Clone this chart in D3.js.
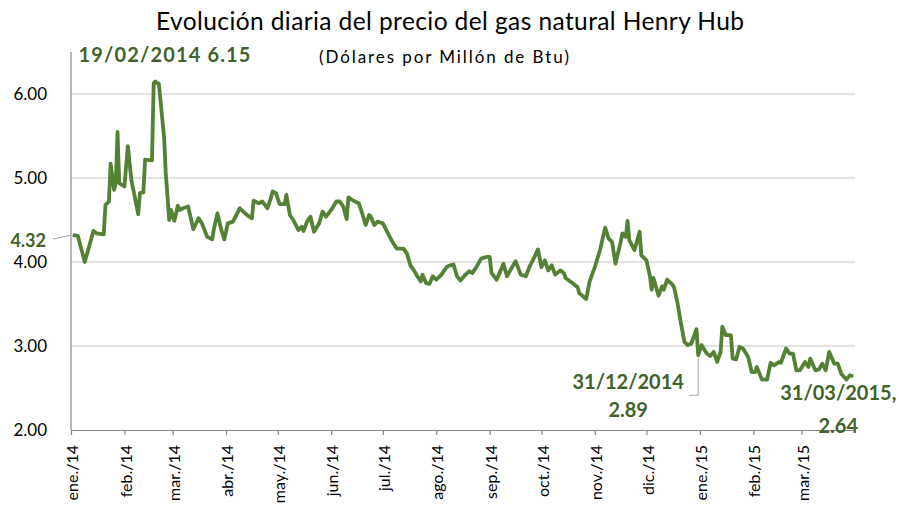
<!DOCTYPE html>
<html>
<head>
<meta charset="utf-8">
<script src="https://cdn.jsdelivr.net/npm/d3@7"></script>
<style>
  body { margin: 0; background: #fff; }
  svg { display: block; font-family: Lato, "Open Sans", sans-serif; }
</style>
</head>
<body>
<div id="chart"></div>
<script>
// daily Henry Hub price (USD / MMBtu)
const dates = [
  "2014-01-02","2014-01-05","2014-01-09","2014-01-14","2014-01-16","2014-01-20","2014-01-21","2014-01-23",
  "2014-01-24","2014-01-26","2014-01-27","2014-01-28","2014-01-29","2014-02-01","2014-02-03","2014-02-05",
  "2014-02-09","2014-02-10","2014-02-12","2014-02-13","2014-02-17","2014-02-18","2014-02-19","2014-02-20",
  "2014-02-21","2014-02-24","2014-02-25","2014-02-27","2014-02-28","2014-03-02","2014-03-04","2014-03-05",
  "2014-03-07","2014-03-10","2014-03-13","2014-03-16","2014-03-18","2014-03-21","2014-03-24","2014-03-25",
  "2014-03-27","2014-03-29","2014-03-31","2014-04-02","2014-04-05","2014-04-09","2014-04-13","2014-04-16",
  "2014-04-17","2014-04-20","2014-04-22","2014-04-25","2014-04-27","2014-04-28","2014-04-30","2014-05-02",
  "2014-05-05","2014-05-06","2014-05-08","2014-05-10","2014-05-13","2014-05-15","2014-05-16","2014-05-18",
  "2014-05-20","2014-05-22","2014-05-25","2014-05-27","2014-05-29","2014-06-01","2014-06-04","2014-06-06",
  "2014-06-08","2014-06-10","2014-06-11","2014-06-13","2014-06-17","2014-06-19","2014-06-21","2014-06-23",
  "2014-06-24","2014-06-26","2014-06-28","2014-07-01","2014-07-03","2014-07-06","2014-07-09","2014-07-13",
  "2014-07-15","2014-07-17","2014-07-19","2014-07-21","2014-07-23","2014-07-24","2014-07-26","2014-07-28",
  "2014-07-30","2014-08-01","2014-08-04","2014-08-07","2014-08-09","2014-08-11","2014-08-13","2014-08-15",
  "2014-08-18","2014-08-20","2014-08-22","2014-08-24","2014-08-27","2014-08-30","2014-09-01","2014-09-02",
  "2014-09-05","2014-09-08","2014-09-09","2014-09-11","2014-09-16","2014-09-19","2014-09-22","2014-09-24",
  "2014-09-27","2014-09-29","2014-10-01","2014-10-03","2014-10-05","2014-10-07","2014-10-09","2014-10-12",
  "2014-10-14","2014-10-15","2014-10-19","2014-10-22","2014-10-23","2014-10-27","2014-10-29","2014-11-01",
  "2014-11-04","2014-11-07","2014-11-09","2014-11-11","2014-11-13","2014-11-16","2014-11-17","2014-11-19",
  "2014-11-20","2014-11-21","2014-11-24","2014-11-27","2014-11-28","2014-12-01","2014-12-03","2014-12-04",
  "2014-12-05","2014-12-08","2014-12-10","2014-12-11","2014-12-13","2014-12-16","2014-12-17","2014-12-19",
  "2014-12-21","2014-12-23","2014-12-25","2014-12-27","2014-12-30","2014-12-31","2015-01-02","2015-01-05",
  "2015-01-07","2015-01-09","2015-01-11","2015-01-13","2015-01-14","2015-01-16","2015-01-19","2015-01-20",
  "2015-01-22","2015-01-24","2015-01-26","2015-01-29","2015-01-31","2015-02-02","2015-02-03","2015-02-06",
  "2015-02-09","2015-02-11","2015-02-13","2015-02-16","2015-02-17","2015-02-20","2015-02-22","2015-02-24",
  "2015-02-26","2015-02-28","2015-03-03","2015-03-05","2015-03-06","2015-03-09","2015-03-11","2015-03-13",
  "2015-03-15","2015-03-17","2015-03-20","2015-03-22","2015-03-24","2015-03-27","2015-03-29","2015-03-31"
];
const prices = [
  4.32,4.31,4.00,4.37,4.34,4.33,4.68,4.72,
  5.17,4.86,4.94,5.55,4.94,4.90,5.38,4.98,
  4.57,4.82,4.83,5.22,5.21,6.13,6.15,6.13,
  6.12,5.49,5.06,4.50,4.62,4.49,4.67,4.62,
  4.64,4.66,4.39,4.52,4.46,4.30,4.27,4.40,
  4.58,4.40,4.27,4.46,4.48,4.64,4.56,4.52,
  4.73,4.70,4.72,4.64,4.76,4.84,4.82,4.69,
  4.69,4.80,4.56,4.50,4.38,4.42,4.37,4.48,
  4.54,4.36,4.46,4.60,4.54,4.62,4.72,4.72,
  4.66,4.51,4.77,4.74,4.70,4.58,4.44,4.56,
  4.54,4.44,4.48,4.46,4.38,4.26,4.16,4.16,
  4.10,3.96,3.90,3.83,3.77,3.85,3.75,3.74,
  3.83,3.79,3.85,3.94,3.96,3.97,3.83,3.78,
  3.85,3.89,3.87,3.93,4.04,4.06,4.06,3.87,
  3.79,3.93,3.98,3.83,4.01,3.85,3.83,3.94,
  4.06,4.15,3.94,4.02,3.90,3.96,3.85,3.90,
  3.87,3.81,3.75,3.70,3.63,3.56,3.77,3.94,
  4.14,4.41,4.28,4.24,3.98,4.24,4.34,4.30,
  4.49,4.26,4.14,4.36,4.08,4.02,3.83,3.67,
  3.81,3.60,3.71,3.67,3.79,3.73,3.70,3.51,
  3.27,3.05,3.01,3.03,3.20,2.89,3.01,2.91,
  2.88,2.93,2.81,2.93,3.23,3.13,3.13,2.85,
  2.84,2.99,2.97,2.87,2.69,2.69,2.75,2.60,
  2.60,2.80,2.77,2.81,2.80,2.97,2.91,2.91,
  2.71,2.71,2.81,2.75,2.85,2.71,2.72,2.79,
  2.71,2.93,2.79,2.79,2.67,2.60,2.65,2.64
];

const monthTicks = [
  "2014-01-01","2014-02-01","2014-03-01","2014-04-01","2014-05-01","2014-06-01","2014-07-01","2014-08-01",
  "2014-09-01","2014-10-01","2014-11-01","2014-12-01","2015-01-01","2015-02-01","2015-03-01"
];
const monthLabels = [
  "ene./14","feb./14","mar./14","abr./14","may./14","jun./14","jul./14","ago./14",
  "sep./14","oct./14","nov./14","dic./14","ene./15","feb./15","mar./15"
];
const yTicks = [2, 3, 4, 5, 6];

const titleText = "Evolución diaria del precio del gas natural Henry Hub";
const subtitleText = "(Dólares por Millón de Btu)";

const width = 899, height = 510;
const margin = {top: 52, right: 44, bottom: 80, left: 71};
const lineColor = "#548235";
const labelColor = "#41622a";

const parse = d3.timeParse("%Y-%m-%d");
const data = dates.map((d, i) => ({date: parse(d), value: prices[i]}));

const svg = d3.select("#chart").append("svg")
  .attr("width", width)
  .attr("height", height);

const x = d3.scaleTime()
  .domain([parse("2014-01-01"), parse("2015-04-01")])
  .range([margin.left, width - margin.right]);

const y = d3.scaleLinear()
  .domain([2, 6.5])
  .range([height - margin.bottom, margin.top]);

// title
svg.append("text")
  .attr("x", 450).attr("y", 30)
  .attr("text-anchor", "middle")
  .attr("textLength", 588)
  .attr("lengthAdjust", "spacing")
  .style("font-size", "24.5px")
  .attr("fill", "#000")
  .text(titleText);

svg.append("text")
  .attr("x", 444).attr("y", 63)
  .attr("text-anchor", "middle")
  .attr("textLength", 250)
  .attr("lengthAdjust", "spacing")
  .style("font-size", "17px")
  .attr("fill", "#000")
  .text(subtitleText);

// gridlines
svg.append("g")
  .selectAll("line")
  .data(yTicks.filter(d => d > 2))
  .enter().append("line")
  .attr("x1", x.range()[0]).attr("x2", x.range()[1])
  .attr("y1", d => y(d)).attr("y2", d => y(d))
  .attr("stroke", "#d9d9d9")
  .attr("stroke-width", 1.3);

// y axis
const yAxis = svg.append("g")
  .attr("transform", "translate(" + margin.left + ",0)")
  .call(d3.axisLeft(y).tickValues(yTicks).tickSize(0).tickPadding(24).tickFormat(d3.format(".2f")));
yAxis.select(".domain").remove();
yAxis.selectAll("text")
  .style("font-size", "17px")
  .style("font-family", "Lato, sans-serif")
  .attr("fill", "#000");

svg.append("line")
  .attr("x1", margin.left).attr("x2", margin.left)
  .attr("y1", margin.top).attr("y2", y(2))
  .attr("stroke", "#868686")
  .attr("stroke-width", 1.2);

// x axis
const xAxis = svg.append("g")
  .attr("transform", "translate(0," + y(2) + ")")
  .call(d3.axisBottom(x)
    .tickValues(monthTicks.map(parse))
    .tickSizeInner(5).tickSizeOuter(0)
    .tickFormat((d, i) => monthLabels[i]));
xAxis.select(".domain").attr("stroke", "#868686").attr("stroke-width", 1.2);
xAxis.selectAll(".tick line").attr("stroke", "#868686").attr("stroke-width", 1.2);
xAxis.selectAll("text")
  .attr("transform", "rotate(-90)")
  .attr("x", -15).attr("y", 1)
  .attr("dy", "0.35em")
  .style("text-anchor", "end")
  .style("font-size", "16px")
  .style("font-family", "Lato, sans-serif")
  .attr("fill", "#000");

// price line
const line = d3.line()
  .x(d => x(d.date))
  .y(d => y(d.value));

svg.append("path")
  .datum(data)
  .attr("d", line)
  .attr("fill", "none")
  .attr("stroke", lineColor)
  .attr("stroke-width", 3.8)
  .attr("stroke-linejoin", "round");

// annotations
const first = data[0];
const peak = data.reduce((a, b) => (b.value > a.value ? b : a));
const yearEnd = data[dates.indexOf("2014-12-31")];
const last = data[data.length - 1];
const fmt = d3.timeFormat("%d/%m/%Y");
const num = d3.format(".2f");

const ann = svg.append("g")
  .attr("fill", labelColor)
  .style("font-weight", "bold")
  .style("font-size", "20px");

// first value, with leader line to the axis
svg.append("line")
  .attr("x1", 53).attr("y1", y(first.value) + 4)
  .attr("x2", margin.left).attr("y2", y(first.value))
  .attr("stroke", "#a6a6a6").attr("stroke-width", 1);
ann.append("text")
  .attr("x", 46).attr("y", y(first.value) + 6)
  .attr("dy", "0.35em")
  .attr("text-anchor", "end")
  .style("font-size", "18px")
  .text(num(first.value));

// peak
ann.append("text")
  .attr("x", x(peak.date) - 77).attr("y", y(peak.value) - 19)
  .attr("textLength", 172)
  .attr("lengthAdjust", "spacing")
  .text(fmt(peak.date) + " " + num(peak.value));

// year end
svg.append("polyline")
  .attr("points", [
    [x(yearEnd.date), y(yearEnd.value) + 3],
    [x(yearEnd.date), y(yearEnd.value) + 40],
    [x(yearEnd.date) - 9, y(yearEnd.value) + 40]
  ].map(p => p.join(",")).join(" "))
  .attr("fill", "none")
  .attr("stroke", "#a6a6a6").attr("stroke-width", 1);
ann.append("text")
  .attr("x", x(yearEnd.date) - 70).attr("y", y(yearEnd.value) + 27)
  .attr("dy", "0.35em")
  .attr("text-anchor", "middle")
  .text(fmt(yearEnd.date));
ann.append("text")
  .attr("x", x(yearEnd.date) - 70).attr("y", y(yearEnd.value) + 55)
  .attr("dy", "0.35em")
  .attr("text-anchor", "middle")
  .text(num(yearEnd.value));

// last value
ann.append("text")
  .attr("x", x(last.date) - 15).attr("y", y(last.value) + 17)
  .attr("dy", "0.35em")
  .attr("text-anchor", "middle")
  .text(fmt(last.date) + ",");
ann.append("text")
  .attr("x", x(last.date) - 15).attr("y", y(last.value) + 50)
  .attr("dy", "0.35em")
  .attr("text-anchor", "middle")
  .text(num(last.value));
</script>
</body>
</html>
